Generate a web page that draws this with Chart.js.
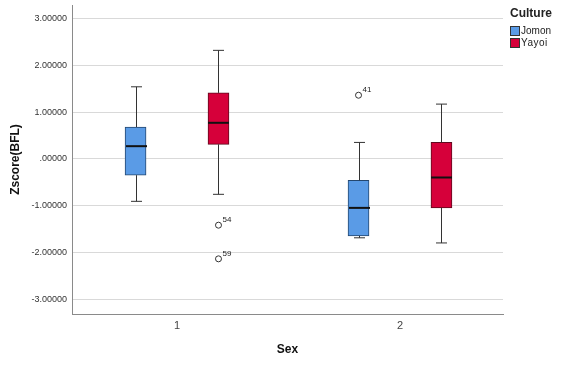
<!DOCTYPE html>
<html>
<head>
<meta charset="utf-8">
<script src="https://cdn.jsdelivr.net/npm/chart.js@4"></script>
<style>
  html, body { margin: 0; padding: 0; background: #fff; }
  #wrap { position: relative; width: 576px; height: 367px; font-family: "Liberation Sans", Arial, sans-serif; }
  canvas { position: absolute; left: 0; top: 0; }
  .lg { position: absolute; color: #222; white-space: nowrap; }
  .sw { position: absolute; width: 8px; height: 8px; border: 1px solid #333; }
</style>
</head>
<body>
<div id="wrap">
  <canvas id="c" width="576" height="367"></canvas>
  <div class="lg" style="left:510px;top:6px;font-size:12px;font-weight:bold;line-height:14px;">Culture</div>
  <div class="sw" style="left:510px;top:26px;background:#5a9be6;"></div>
  <div class="lg" style="left:521px;top:25px;font-size:10px;line-height:12px;">Jomon</div>
  <div class="sw" style="left:510px;top:38px;background:#d6003a;"></div>
  <div class="lg" style="left:521px;top:37px;font-size:10px;line-height:12px;letter-spacing:0.5px;">Yayoi</div>
</div>
<script>
// ---- Data ----
const sexCategories = ['1', '2'];
const cultureNames = ['Jomon', 'Yayoi'];

const jomonWhiskerLow  = [-0.91, -1.69];
const jomonQ1          = [-0.35, -1.65];
const jomonMedian      = [ 0.27, -1.05];
const jomonQ3          = [ 0.68, -0.46];
const jomonWhiskerHigh = [ 1.54,  0.35];

const yayoiWhiskerLow  = [-0.76, -1.80];
const yayoiQ1          = [ 0.31, -1.05];
const yayoiMedian      = [ 0.77, -0.40];
const yayoiQ3          = [ 1.41,  0.35];
const yayoiWhiskerHigh = [ 2.32,  1.17];

// outliers: category index, value, case label
const jomonOutlierSex    = [1];
const jomonOutlierValue  = [1.36];
const jomonOutlierLabel  = ['41'];
const yayoiOutlierSex    = [0, 0];
const yayoiOutlierValue  = [-1.42, -2.14];
const yayoiOutlierLabel  = ['54', '59'];

const yTickValues = [-3, -2, -1, 0, 1, 2, 3];
const yTickLabels = ['-3.00000', '-2.00000', '-1.00000', '.00000', '1.00000', '2.00000', '3.00000'];

// ---- Styling / layout ----
const groupOffset = 0.186;
const colors = ['#5a9be6', '#d6003a'];
const borderColors = ['#24476f', '#5e0a1e'];
const FONT = '"Liberation Sans", Arial, sans-serif';

const series = [
  { low: jomonWhiskerLow, q1: jomonQ1, med: jomonMedian, q3: jomonQ3, high: jomonWhiskerHigh,
    oSex: jomonOutlierSex, oVal: jomonOutlierValue, oLab: jomonOutlierLabel, off: -groupOffset },
  { low: yayoiWhiskerLow, q1: yayoiQ1, med: yayoiMedian, q3: yayoiQ3, high: yayoiWhiskerHigh,
    oSex: yayoiOutlierSex, oVal: yayoiOutlierValue, oLab: yayoiOutlierLabel, off: groupOffset }
];

const datasets = [];
series.forEach((s, i) => {
  datasets.push({
    type: 'bar',
    label: cultureNames[i],
    data: sexCategories.map((c, k) => ({ x: k + 1 + s.off, y: [s.q1[k], s.q3[k]] })),
    backgroundColor: colors[i],
    borderColor: borderColors[i],
    borderWidth: 1,
    borderSkipped: false,
    barThickness: 21,
    grouped: false,
    order: 2
  });
});
series.forEach((s, i) => {
  datasets.push({
    type: 'scatter',
    label: cultureNames[i] + ' outliers',
    data: s.oVal.map((v, k) => ({ x: s.oSex[k] + 1 + s.off, y: v, lab: s.oLab[k] })),
    pointRadius: 3,
    pointBackgroundColor: '#ffffff',
    pointBorderColor: '#333333',
    pointBorderWidth: 1,
    showLine: false,
    order: 1
  });
});

const boxPlugin = {
  id: 'boxParts',
  afterDatasetsDraw(chart) {
    const ctx = chart.ctx;
    const xs = chart.scales.x, ys = chart.scales.y;
    ctx.save();
    series.forEach((s, i) => {
      sexCategories.forEach((c, k) => {
        const cx = Math.round(xs.getPixelForValue(k + 1 + s.off)) + 0.5;
        const half = 10.5, cap = 5.5;
        const pLow = ys.getPixelForValue(s.low[k]);
        const pQ1 = ys.getPixelForValue(s.q1[k]);
        const pQ3 = ys.getPixelForValue(s.q3[k]);
        const pHigh = ys.getPixelForValue(s.high[k]);
        const pMed = ys.getPixelForValue(s.med[k]);
        ctx.strokeStyle = '#333333';
        ctx.lineWidth = 1;
        ctx.beginPath();
        ctx.moveTo(cx, pQ3); ctx.lineTo(cx, pHigh);
        ctx.moveTo(cx - cap, pHigh); ctx.lineTo(cx + cap, pHigh);
        ctx.moveTo(cx, pQ1); ctx.lineTo(cx, pLow);
        ctx.moveTo(cx - cap, pLow); ctx.lineTo(cx + cap, pLow);
        ctx.stroke();
        ctx.strokeStyle = '#111111';
        ctx.lineWidth = 2;
        ctx.beginPath();
        ctx.moveTo(cx - half, pMed); ctx.lineTo(cx + half, pMed);
        ctx.stroke();
      });
      ctx.fillStyle = '#222222';
      ctx.font = '8px ' + FONT;
      ctx.textAlign = 'left';
      ctx.textBaseline = 'middle';
      s.oVal.forEach((v, k) => {
        const px = xs.getPixelForValue(s.oSex[k] + 1 + s.off);
        const py = ys.getPixelForValue(v);
        ctx.fillText(s.oLab[k], px + 4, py - 5);
      });
    });
    ctx.restore();
  }
};

new Chart(document.getElementById('c'), {
  type: 'bar',
  data: { datasets },
  plugins: [boxPlugin],
  options: {
    responsive: false,
    animation: false,
    devicePixelRatio: 1,
    layout: { padding: { left: 0, right: 73, top: 1, bottom: 0 } },
    plugins: { legend: { display: false }, tooltip: { enabled: false } },
    scales: {
      x: {
        type: 'linear',
        offset: false,
        min: 0.529,
        max: 2.462,
        afterBuildTicks(scale) { scale.ticks = sexCategories.map((c, k) => ({ value: k + 1 })); },
        afterFit(scale) { scale.height = 53; scale.paddingLeft = 0; scale.paddingRight = 0; },
        ticks: {
          callback: (v) => sexCategories[v - 1],
          font: { family: FONT, size: 11 },
          color: '#444444',
          padding: 5,
          maxRotation: 0
        },
        grid: { display: false, drawTicks: false },
        border: { display: true, color: '#8a8a8a', width: 1 },
        title: {
          display: true,
          text: 'Sex',
          font: { family: FONT, size: 12, weight: 'bold' },
          color: '#111111',
          padding: { top: 0, bottom: 10 }
        }
      },
      y: {
        type: 'linear',
        min: -3.32,
        max: 3.29,
        afterBuildTicks(scale) { scale.ticks = yTickValues.map(v => ({ value: v })); },
        afterFit(scale) { scale.width = 72; scale.paddingTop = 0; scale.paddingBottom = 0; },
        ticks: {
          callback: (v) => yTickLabels[yTickValues.indexOf(v)],
          font: { family: FONT, size: 9 },
          color: '#333333',
          padding: 5
        },
        grid: { color: '#d9d9d9', lineWidth: 1, drawTicks: false },
        border: { display: true, color: '#8a8a8a', width: 1 },
        title: {
          display: true,
          text: 'Zscore(BFL)',
          font: { family: FONT, size: 12, weight: 'bold' },
          color: '#111111',
          padding: { top: 8, bottom: 0 }
        }
      }
    }
  }
});
</script>
</body>
</html>
